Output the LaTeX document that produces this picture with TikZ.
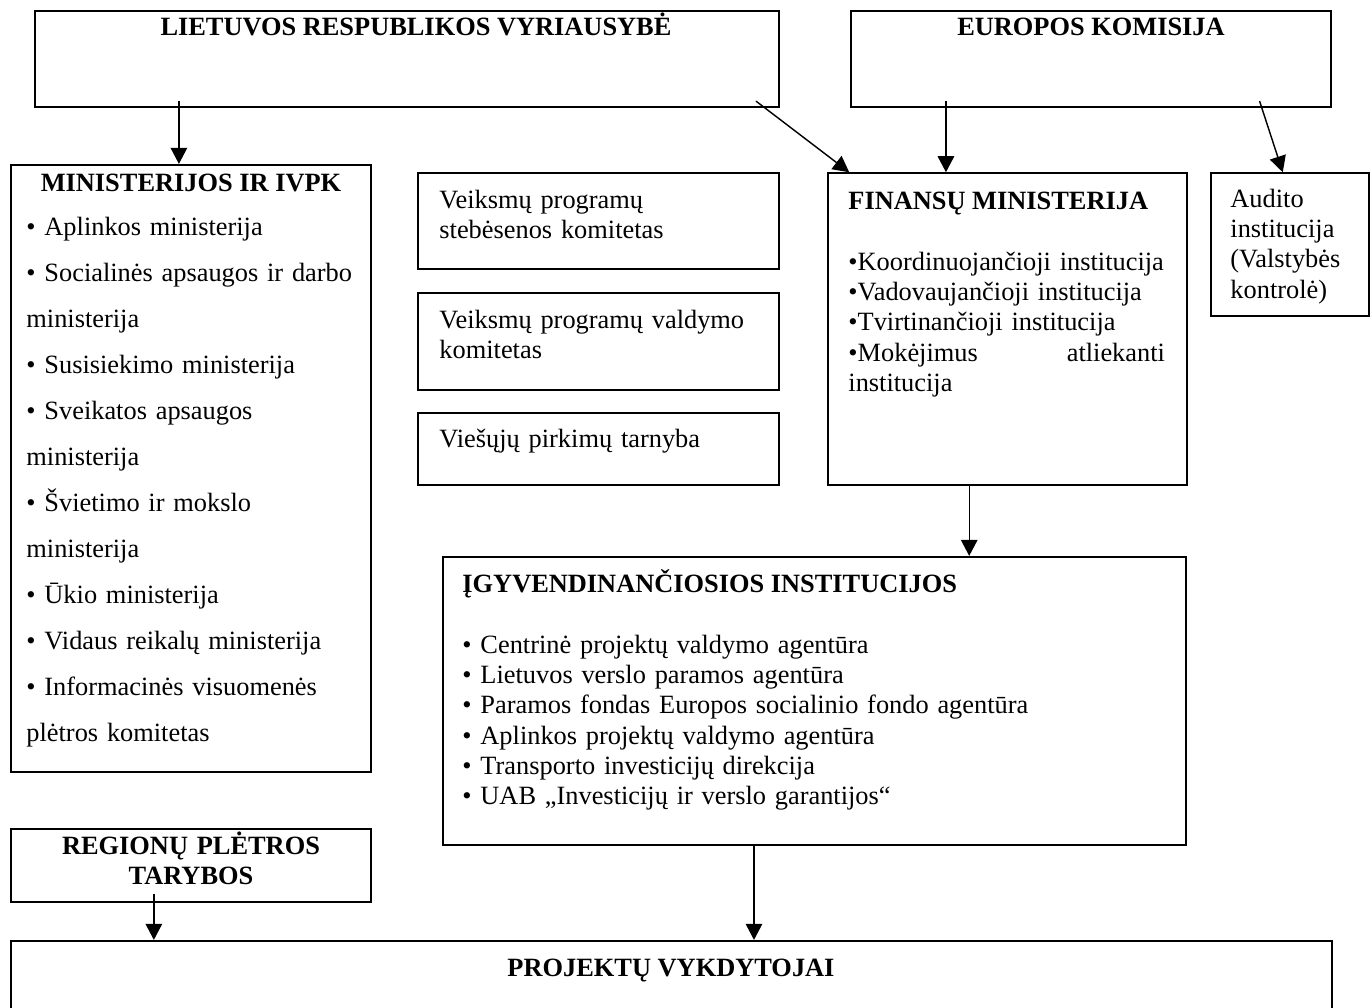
\documentclass[tikz,border=0pt]{standalone}
\usepackage{fontspec}
\setmainfont{Liberation Serif}
\usetikzlibrary{arrows.meta, fit}

\tikzset{
  box/.style={draw, line width=1pt, inner sep=0pt},
  thinbox/.style={box, line width=0.7pt},
  arr/.style={line width=0.65pt, -{Triangle[length=7.3pt, width=7.5pt]}},
  head/.style={font=\fontsize{12}{13.8}\selectfont\bfseries, inner sep=0pt, anchor=base},
  txt/.style={font=\fontsize{12}{13.8}\selectfont, inner sep=0pt, anchor=base west,
    align=left, text width=#1},
  txt/.default=150pt
}

\begin{document}
\begin{tikzpicture}[x=0.455pt, y=-0.455pt]
\useasboundingbox (0,0) rectangle (1372,1007);

\node[box, fit={(35,11) (779,107)}] (lrv) {};
\node[box, fit={(851,11) (1331,107)}] (ek) {};
\node[box, fit={(11,165) (371,772)}] (min) {};
\node[thinbox, fit={(418,173) (779,269)}] (vpsk) {};
\node[thinbox, fit={(418,293) (779,390)}] (vpvk) {};
\node[thinbox, fit={(418,413) (779,485)}] (vpt) {};
\node[thinbox, fit={(828,173) (1187,485)}] (fin) {};
\node[thinbox, fit={(1211,173) (1369,316)}] (aud) {};
\node[box, fit={(443,557) (1186,845)}] (ig) {};
\node[box, fit={(11,829) (371,902)}] (rpt) {};
\node[box, fit={(11,941) (1332,1040)}] (pv) {};

\node[head] (lrv-t) at (416,35) {LIETUVOS RESPUBLIKOS VYRIAUSYBĖ};
\node[head] (ek-t) at (1091,35) {EUROPOS KOMISIJA};
\node[head] (min-t) at (191,191) {MINISTERIJOS IR IVPK};
\node[txt=158pt, font=\fontsize{12}{20.93}\selectfont] (min-l) at (26,235) {%
	• Aplinkos ministerija\\
	• Socialinės apsaugos ir darbo\\
	ministerija\\
	• Susisiekimo ministerija\\
	• Sveikatos apsaugos\\
	ministerija\\
	• Švietimo ir mokslo\\
	ministerija\\
	• Ūkio ministerija\\
	• Vidaus reikalų ministerija\\
	• Informacinės visuomenės\\
	plėtros komitetas};

\node[txt=160pt] (vpsk-t) at (439,208) {Veiksmų programų\\stebėsenos komitetas};
\node[txt=160pt] (vpvk-t) at (439,328) {Veiksmų programų valdymo\\komitetas};
\node[txt=160pt] (vpt-t) at (439,447) {Viešųjų pirkimų tarnyba};

\node[head, anchor=base west] (fin-t) at (848,209) {FINANSŲ MINISTERIJA};
\node[txt=156pt] (fin-l) at (848,270) {%
	•Koordinuojančioji institucija\\
	•Vadovaujančioji institucija\\
	•Tvirtinančioji institucija\\
	\makebox[144pt]{•Mokėjimus\hfill atliekanti}\\
	institucija};

\node[txt=70pt] (aud-t) at (1230,207) {Audito\\institucija\\(Valstybės\\kontrolė)};

\node[head, anchor=base west] (ig-t) at (462,592) {ĮGYVENDINANČIOSIOS INSTITUCIJOS};
\node[txt=320pt] (ig-l) at (462,653) {%
	• Centrinė projektų valdymo agentūra\\
	• Lietuvos verslo paramos agentūra\\
	• Paramos fondas Europos socialinio fondo agentūra\\
	• Aplinkos projektų valdymo agentūra\\
	• Transporto investicijų direkcija\\
	• UAB „Investicijų ir verslo garantijos“};

\node[head, text width=150pt, align=center] (rpt-t) at (191,854) {REGIONŲ PLĖTROS\\TARYBOS};
\node[head] (pv-t) at (671,976) {PROJEKTŲ VYKDYTOJAI};

\draw[arr] ([xshift=-5.5pt, yshift=3.2pt]lrv.south -| min.north) -- ([xshift=-5.5pt]min.north);
\draw[arr] ([xshift=-11pt, yshift=3.2pt]lrv.south east) -- ([xshift=10pt]fin.north west);
\draw[arr] ([xshift=43.7pt, yshift=3.2pt]ek.south west) -- ([xshift=43.7pt]ek.south west |- fin.north);
\draw[arr] ([xshift=-33pt, yshift=3.2pt]ek.south east) -- ([xshift=33pt]aud.north west);
\draw[arr] ([xshift=64.6pt]fin.south west) -- ([xshift=64.6pt]fin.south west |- ig.north);
\draw[arr] ([xshift=65.5pt, yshift=4pt]rpt.south west) -- ([xshift=65.5pt]rpt.south west |- pv.north);
\draw[arr] ([xshift=142pt]ig.south west) -- ([xshift=142pt]ig.south west |- pv.north);
\end{tikzpicture}
\end{document}
